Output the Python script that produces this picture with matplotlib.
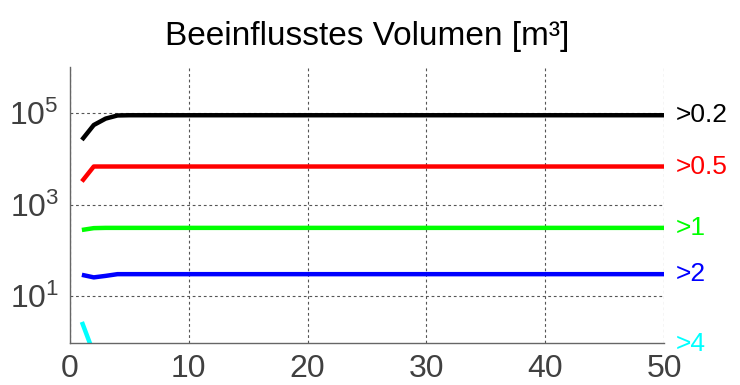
import numpy as np
from matplotlib import pyplot as plt

plt.rcParams['font.family'] = ['Liberation Sans', 'DejaVu Sans']
plt.rcParams['mathtext.fontset'] = 'custom'
plt.rcParams['mathtext.rm'] = 'Liberation Sans'

# Zeitschritte 1..50
x = np.arange(1, 51)

# Volumen je Schwellwert
v_02 = [2.6e4, 5.5e4, 7.6e4, 8.9e4] + [9.0e4] * 46
v_05 = [3.2e3] + [6.8e3] * 49
v_1 = [278, 305] + [309] * 48
v_2 = [29, 25.5, 27.5, 30] + [30] * 46
v_4 = [2.7, 0.55] + [0.3] * 48

series = [v_02, v_05, v_1, v_2, v_4]
labels = ['>0.2', '>0.5', '>1', '>2', '>4']
colors = ['#000000', '#ff0000', '#00ff00', '#0000ff', '#00ffff']

fig = plt.figure(figsize=(7.4, 3.85), dpi=100)
ax = fig.add_axes([0.0946, 0.109, 0.8027, 0.717])

ymin = 10 ** -0.03
for vals, lab, c in zip(series, labels, colors):
    ax.plot(x, vals, color=c, linewidth=3.2, solid_capstyle='butt')
    ax.text(51, max(vals[-1], ymin * 0.93), lab, color=c, fontsize=19,
            va='center', ha='left', clip_on=False)

ax.set_yscale('log')
ax.set_xlim(0, 50)
ax.set_ylim(ymin, 10 ** 6.01)
ax.set_xticks([0, 10, 20, 30, 40, 50])
ax.set_yticks([10, 1e3, 1e5])
ax.set_yticklabels([r'$\mathdefault{10^{1}}$', r'$\mathdefault{10^{3}}$',
                    r'$\mathdefault{10^{5}}$'])
ax.minorticks_off()

ax.grid(True, color='#555555', linestyle=(0, (2.5, 2.5)), linewidth=0.8)
ax.set_axisbelow(True)
for s in ['top', 'right']:
    ax.spines[s].set_visible(False)
for s in ['left', 'bottom']:
    ax.spines[s].set_color('#666666')
    ax.spines[s].set_linewidth(1.0)

ax.tick_params(axis='both', length=0, labelsize=23, labelcolor='#404040')
ax.tick_params(axis='x', pad=8)
ax.tick_params(axis='y', pad=8)

ax.set_title('Beeinflusstes Volumen [m³]', fontsize=24, pad=16)

plt.savefig('out.png', dpi=100)
